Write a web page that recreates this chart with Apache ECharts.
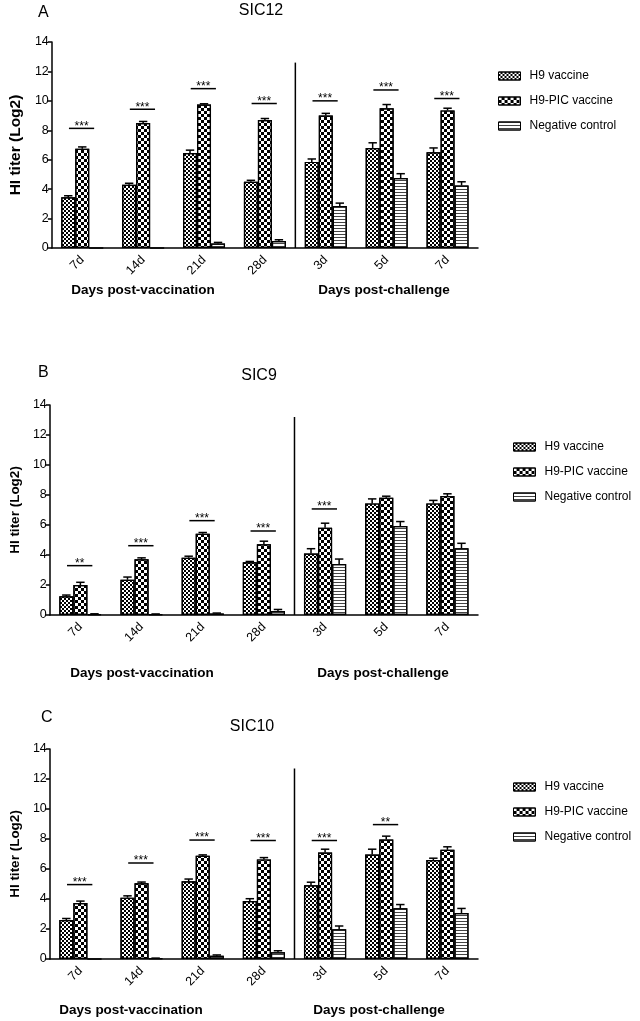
<!DOCTYPE html>
<html>
<head>
<meta charset="utf-8">
<script src="https://cdn.jsdelivr.net/npm/echarts@6/dist/echarts.min.js"></script>
<style>
html,body{margin:0;padding:0;background:#fff;}
#chart{width:640px;height:1021px;}
</style>
</head>
<body>
<div id="chart"></div>
<script>
// ---------- data ----------
const categories = ['7d', '14d', '21d', '28d', '3d', '5d', '7d'];
const seriesNames = ['H9 vaccine', 'H9-PIC vaccine', 'Negative control'];
const yTicks = [0, 2, 4, 6, 8, 10, 12, 14];

const panelTitles = ['SIC12', 'SIC9', 'SIC10'];
const panelLetters = ['A', 'B', 'C'];
const groupTitles = ['Days post-vaccination', 'Days post-challenge'];

// Panel A (SIC12)
const A_h9 = [3.45, 4.3, 6.45, 4.5, 5.85, 6.8, 6.5];
const A_h9Err = [0.1, 0.1, 0.2, 0.1, 0.2, 0.35, 0.3];
const A_pic = [6.75, 8.5, 9.75, 8.7, 9.0, 9.5, 9.35];
const A_picErr = [0.12, 0.1, 0.05, 0.1, 0.15, 0.25, 0.15];
const A_neg = [0, 0, 0.3, 0.48, 2.85, 4.75, 4.25];
const A_negErr = [0, 0, 0.08, 0.08, 0.2, 0.3, 0.25];
const A_sig = ['***', '***', '***', '***', '***', '***', '***'];
const A_sigY = [8.13, 9.43, 10.83, 9.82, 10.0, 10.74, 10.16];

// Panel B (SIC9)
const B_h9 = [1.25, 2.35, 3.82, 3.51, 4.1, 7.44, 7.44];
const B_h9Err = [0.08, 0.18, 0.1, 0.06, 0.32, 0.3, 0.2];
const B_pic = [2.0, 3.71, 5.42, 4.72, 5.82, 7.82, 7.93];
const B_picErr = [0.18, 0.1, 0.08, 0.2, 0.3, 0.1, 0.15];
const B_neg = [0.06, 0.05, 0.1, 0.27, 3.4, 5.93, 4.45];
const B_negErr = [0.02, 0.02, 0.03, 0.1, 0.33, 0.3, 0.33];
const B_sig = ['**', '***', '***', '***', '***', '', ''];
const B_sigY = [3.29, 4.62, 6.29, 5.6, 7.07, null, null];

// Panel C (SIC10)
const C_h9 = [2.6, 4.09, 5.18, 3.87, 4.92, 6.97, 6.6];
const C_h9Err = [0.1, 0.12, 0.15, 0.15, 0.2, 0.35, 0.12];
const C_pic = [3.73, 5.05, 6.88, 6.64, 7.1, 7.97, 7.28];
const C_picErr = [0.13, 0.08, 0.06, 0.12, 0.22, 0.22, 0.2];
const C_neg = [0, 0.04, 0.22, 0.45, 1.98, 3.38, 3.07];
const C_negErr = [0, 0.02, 0.05, 0.1, 0.22, 0.25, 0.3];
const C_sig = ['***', '***', '***', '***', '***', '**', ''];
const C_sigY = [4.96, 6.4, 7.93, 7.9, 7.9, 8.96, null];

const dividerAfter = 3;            // last "post-vaccination" category index
const dividerTop = [12.6, 13.2, 12.7];

// ---------- styling / layout ----------
const FONT = '"Liberation Sans", Arial, sans-serif';
const BAR_FRAC = 0.23;
const grids = [
  {left: 48, top: 42, width: 430, height: 206},
  {left: 48, top: 405, width: 430, height: 210},
  {left: 48, top: 749, width: 430, height: 210}
];
const yNameSize = [15.5, 13.5, 13.5];
const yNameGap = [26, 27, 27];
const legendPos = [{left: 498, top: 70}, {left: 513, top: 441}, {left: 513, top: 781}];
const letterPos = [[38, 13], [38, 373], [41, 718]];
const titlePos = [[261, 11], [259, 376], [252, 727]];
const groupPos = [[[143, 290], [384, 290]], [[142, 673], [383, 673]], [[131, 1010], [379, 1010]]];

const decals = [
  {symbol: 'rect', symbolSize: 1, color: '#000', backgroundColor: null,
   dashArrayX: [[2, 2], [0, 2, 2, 0]], dashArrayY: [2, 0]},
  {symbol: 'rect', symbolSize: 1, color: '#000', backgroundColor: null,
   dashArrayX: [[3, 3], [0, 3, 3, 0]], dashArrayY: [3, 0]},
  {symbol: 'rect', symbolSize: 1, color: '#444', backgroundColor: null,
   dashArrayX: [[3, 0]], dashArrayY: [1, 2]}
];

const panels = [
  {vals: [A_h9, A_pic, A_neg], errs: [A_h9Err, A_picErr, A_negErr], sig: A_sig, sigY: A_sigY},
  {vals: [B_h9, B_pic, B_neg], errs: [B_h9Err, B_picErr, B_negErr], sig: B_sig, sigY: B_sigY},
  {vals: [C_h9, C_pic, C_neg], errs: [C_h9Err, C_picErr, C_negErr], sig: C_sig, sigY: C_sigY}
];

const option = {
  animation: false,
  backgroundColor: '#fff',
  textStyle: {fontFamily: FONT, color: '#000'},
  grid: grids,
  xAxis: [],
  yAxis: [],
  legend: [],
  series: [],
  graphic: []
};

panels.forEach(function (p, pi) {
  option.xAxis.push({
    type: 'category', gridIndex: pi, data: categories,
    axisLine: {lineStyle: {color: '#000', width: 1.5}},
    axisTick: {alignWithLabel: true, length: 6, lineStyle: {color: '#000', width: 1.5}},
    axisLabel: {rotate: 45, fontSize: 12.5, color: '#000', margin: 10, fontFamily: FONT}
  });
  option.yAxis.push({
    type: 'value', gridIndex: pi, min: yTicks[0], max: yTicks[yTicks.length - 1],
    interval: yTicks[1] - yTicks[0],
    name: 'HI titer (Log2)', nameLocation: 'middle', nameGap: yNameGap[pi],
    nameTextStyle: {fontSize: yNameSize[pi], fontWeight: 'bold', color: '#000', fontFamily: FONT},
    axisLine: {show: true, lineStyle: {color: '#000', width: 1.5}},
    axisTick: {show: true, length: 4, lineStyle: {color: '#000', width: 1.5}},
    axisLabel: {fontSize: 12.5, color: '#000', margin: 3, fontFamily: FONT},
    splitLine: {show: false}
  });
  option.legend.push({
    orient: 'vertical', left: legendPos[pi].left, top: legendPos[pi].top, padding: 0,
    itemWidth: 22, itemHeight: 8, itemGap: 13, icon: 'rect',
    data: seriesNames, selectedMode: false,
    itemStyle: {borderColor: '#000', borderWidth: 1},
    textStyle: {fontSize: 12, color: '#000', fontFamily: FONT, padding: [0, 0, 0, 4]}
  });

  // bars
  p.vals.forEach(function (vals, k) {
    option.series.push({
      type: 'bar', name: seriesNames[k], xAxisIndex: pi, yAxisIndex: pi,
      data: vals, barWidth: (BAR_FRAC * 100) + '%', barGap: '0%',
      itemStyle: {color: '#fff', borderColor: '#000', borderWidth: 1.2, decal: decals[k]},
      emphasis: {disabled: true}
    });
  });

  // error bars (upper only)
  const errData = [];
  p.vals.forEach(function (vals, k) {
    vals.forEach(function (v, i) {
      if (p.errs[k][i] > 0) errData.push([i, v, p.errs[k][i], k]);
    });
  });
  option.series.push({
    type: 'custom', name: 'err' + pi, xAxisIndex: pi, yAxisIndex: pi, z: 5,
    data: errData, encode: {x: 0, y: 1},
    renderItem: function (params, api) {
      const cat = api.value(0), v = api.value(1), e = api.value(2), k = api.value(3);
      const bw = api.size([1, 0])[0] * BAR_FRAC;
      const p0 = api.coord([cat, v]);
      const p1 = api.coord([cat, v + e]);
      const x = p0[0] + (k - 1) * bw;
      const cap = bw * 0.3;
      const st = {stroke: '#000', lineWidth: 1.5};
      return {type: 'group', children: [
        {type: 'line', shape: {x1: x, y1: p0[1], x2: x, y2: p1[1]}, style: st},
        {type: 'line', shape: {x1: x - cap, y1: p1[1], x2: x + cap, y2: p1[1]}, style: st}
      ]};
    }
  });

  // significance annotations
  const sigData = [];
  p.sigY.forEach(function (y, i) { if (y != null && p.sig[i]) sigData.push([i, y]); });
  const sigLabels = p.sig;
  option.series.push({
    type: 'custom', name: 'sig' + pi, xAxisIndex: pi, yAxisIndex: pi, z: 5,
    data: sigData, encode: {x: 0, y: 1},
    renderItem: function (params, api) {
      const cat = api.value(0), y = api.value(1);
      const bw = api.size([1, 0])[0] * BAR_FRAC;
      const pt = api.coord([cat, y]);
      const x1 = pt[0] - 0.95 * bw, x2 = pt[0] + 0.85 * bw;
      return {type: 'group', children: [
        {type: 'line', shape: {x1: x1, y1: pt[1], x2: x2, y2: pt[1]}, style: {stroke: '#000', lineWidth: 1.5}},
        {type: 'text', style: {text: sigLabels[cat], x: (x1 + x2) / 2, y: pt[1] - 2,
          align: 'center', verticalAlign: 'middle', fill: '#000', fontSize: 12, fontFamily: FONT}}
      ]};
    }
  });

  // divider between vaccination and challenge phases
  option.series.push({
    type: 'custom', name: 'div' + pi, xAxisIndex: pi, yAxisIndex: pi, z: 5,
    data: [[dividerAfter, dividerTop[pi]]], encode: {x: 0, y: 1},
    renderItem: function (params, api) {
      const c = api.value(0), top = api.value(1);
      const bandW = api.size([1, 0])[0];
      const p0 = api.coord([c, 0]);
      const p1 = api.coord([c, top]);
      const x = p0[0] + bandW / 2;
      return {type: 'line', shape: {x1: x, y1: p0[1], x2: x, y2: p1[1]}, style: {stroke: '#000', lineWidth: 1.5}};
    }
  });

  // texts
  option.graphic.push({
    type: 'text', left: letterPos[pi][0], top: letterPos[pi][1] - 8,
    style: {text: panelLetters[pi], fontSize: 16, fill: '#000', fontFamily: FONT}
  });
  option.graphic.push({
    type: 'text', x: titlePos[pi][0], y: titlePos[pi][1],
    style: {text: panelTitles[pi], fontSize: 16, fill: '#000', fontFamily: FONT, align: 'center', verticalAlign: 'middle'}
  });
  groupTitles.forEach(function (t, gi) {
    option.graphic.push({
      type: 'text', x: groupPos[pi][gi][0], y: groupPos[pi][gi][1],
      style: {text: t, fontSize: 13.5, fontWeight: 'bold', fill: '#000', fontFamily: FONT, align: 'center', verticalAlign: 'middle'}
    });
  });
});

const chart = echarts.init(document.getElementById('chart'), null, {renderer: 'canvas'});
chart.setOption(option);
</script>
</body>
</html>
